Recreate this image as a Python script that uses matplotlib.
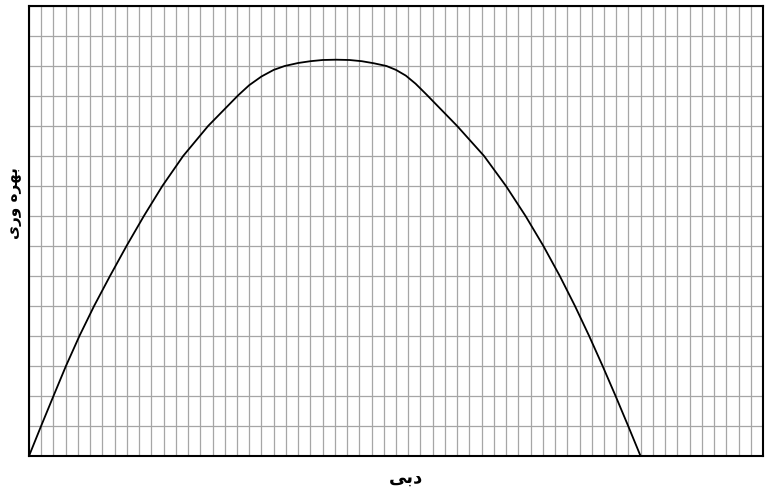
import matplotlib.pyplot as plt
import numpy as np

# curve, in grid units (60 x 15 cells)
flow = [0, 0.99, 2.0, 3.02, 4.12, 5.32, 6.62, 7.97, 9.39, 10.9,
        12.6, 14.64, 17.09, 18.0, 19.0, 20.0, 20.9, 22.0, 23.0, 24.0,
        25.1, 26.2, 27.2, 28.2, 29.22, 30.0, 30.8, 31.6, 32.49, 35.0,
        37.2, 38.99, 40.59, 42.05, 43.39, 44.63, 45.79, 46.89, 47.95, 48.98,
        49.99]
efficiency = [0, 1, 2, 3, 4, 5, 6, 7, 8, 9,
              10, 11, 12.02, 12.36, 12.65, 12.87, 13.0, 13.1, 13.16, 13.2,
              13.21, 13.2, 13.16, 13.09, 13.0, 12.87, 12.68, 12.41, 12.05, 11.0,
              10, 9, 8, 7, 6, 5, 4, 3, 2, 1,
              0]

# persian labels, pre-shaped (presentation forms, visual order) since matplotlib does no RTL shaping
xlabel = "\uFBFD\uFE91\uFEA9"                              # دبی
ylabel = "\uFBFC\uFEAD\uFEED \uFEE9\uFEAE\uFEEC\uFE91"    # بهره وری

fig = plt.figure(figsize=(7.79, 4.92), dpi=100)
ax = fig.add_axes([29/779, 36/492, 734/779, 450/492])
ax.plot(flow, efficiency, color='k', lw=1.3)

ax.set_xlim(0, 60)
ax.set_ylim(0, 15)
ax.set_xticks(np.arange(0, 61, 1))
ax.set_yticks(np.arange(0, 16, 1))
ax.grid(True, color='#a6a6a6', lw=0.9)
ax.tick_params(length=0, labelbottom=False, labelleft=False)
for s in ax.spines.values():
    s.set_linewidth(1.5)

fig.text(406/779, 1 - 478/492, xlabel, ha='center', va='center',
         fontsize=13, fontweight='bold', family='DejaVu Sans')
fig.text(14/779, 1 - 203/492, ylabel, ha='center', va='center', rotation=90,
         fontsize=11, fontweight='bold', family='DejaVu Sans')

fig.savefig('out.png', dpi=100)
